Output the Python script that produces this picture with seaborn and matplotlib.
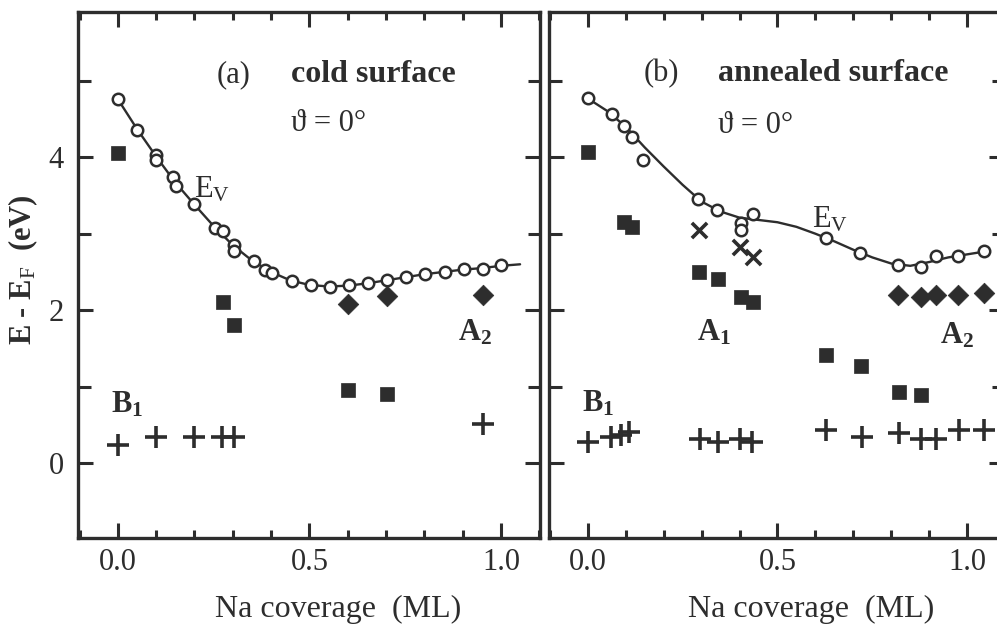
import numpy as np
import pandas as pd
import matplotlib
matplotlib.use("Agg")
import matplotlib.pyplot as plt
import seaborn as sns
from matplotlib.ticker import FixedLocator, MultipleLocator

# ---------------- data ----------------
# panel (a) cold surface
a_ev_x = [0.0, 0.05, 0.10, 0.10, 0.143, 0.151, 0.20, 0.253, 0.274, 0.303, 0.303,
          0.355, 0.383, 0.403, 0.454, 0.504, 0.554, 0.604, 0.652, 0.703, 0.753,
          0.803, 0.853, 0.903, 0.953, 1.0]
a_ev_y = [4.76, 4.36, 4.03, 3.96, 3.74, 3.63, 3.39, 3.08, 3.04, 2.85, 2.78,
          2.64, 2.53, 2.49, 2.38, 2.33, 2.30, 2.33, 2.35, 2.40, 2.44,
          2.47, 2.50, 2.54, 2.54, 2.59]
a_fit_x = [0.0, 0.05, 0.10, 0.15, 0.20, 0.25, 0.30, 0.35, 0.40, 0.45, 0.50, 0.55,
           0.60, 0.65, 0.70, 0.75, 0.80, 0.85, 0.90, 0.95, 1.0, 1.05]
a_fit_y = [4.76, 4.37, 4.01, 3.67, 3.38, 3.10, 2.85, 2.65, 2.50, 2.39, 2.33, 2.31,
           2.32, 2.35, 2.39, 2.43, 2.47, 2.50, 2.53, 2.55, 2.58, 2.60]
a_sq_x = [0.0, 0.274, 0.303, 0.602, 0.702]
a_sq_y = [4.05, 2.11, 1.80, 0.95, 0.90]
a_di_x = [0.602, 0.702, 0.952]
a_di_y = [2.08, 2.18, 2.20]
a_pl_x = [0.0, 0.10, 0.20, 0.273, 0.303, 0.952]
a_pl_y = [0.24, 0.34, 0.34, 0.34, 0.34, 0.51]

# panel (b) annealed surface
b_ev_x = [0.0, 0.063, 0.096, 0.116, 0.145, 0.291, 0.342, 0.403, 0.403, 0.435,
          0.628, 0.717, 0.818, 0.878, 0.918, 0.976, 1.045]
b_ev_y = [4.77, 4.57, 4.41, 4.27, 3.97, 3.45, 3.31, 3.14, 3.05, 3.26,
          2.94, 2.75, 2.59, 2.57, 2.71, 2.71, 2.78]
b_fit_x = [0.0, 0.05, 0.10, 0.15, 0.20, 0.25, 0.30, 0.35, 0.40, 0.45, 0.50, 0.55,
           0.60, 0.65, 0.70, 0.75, 0.80, 0.85, 0.90, 0.95, 1.0, 1.05]
b_fit_y = [4.77, 4.61, 4.40, 4.13, 3.88, 3.64, 3.42, 3.29, 3.21, 3.18, 3.15, 3.09,
           3.00, 2.90, 2.79, 2.69, 2.61, 2.58, 2.63, 2.69, 2.73, 2.77]
b_sq_x = [0.0, 0.096, 0.116, 0.293, 0.344, 0.403, 0.435, 0.628, 0.72, 0.821, 0.879]
b_sq_y = [4.07, 3.15, 3.09, 2.50, 2.41, 2.17, 2.11, 1.41, 1.27, 0.93, 0.89]
b_cr_x = [0.293, 0.40, 0.435]
b_cr_y = [3.05, 2.83, 2.70]
b_di_x = [0.818, 0.878, 0.918, 0.976, 1.043]
b_di_y = [2.20, 2.17, 2.20, 2.20, 2.22]
b_pl_x = [0.0, 0.062, 0.088, 0.11, 0.295, 0.344, 0.40, 0.434, 0.628, 0.722,
          0.819, 0.877, 0.919, 0.978, 1.044]
b_pl_y = [0.27, 0.34, 0.37, 0.41, 0.32, 0.27, 0.32, 0.27, 0.43, 0.34,
          0.39, 0.32, 0.32, 0.43, 0.43]

x_major = [0.0, 0.5, 1.0]
x_major_labels = ["0.0", "0.5", "1.0"]
y_major = [0, 2, 4]
y_minor = [1, 3, 5]

# ---------------- style ----------------
sns.set_theme(style="ticks")
plt.rcParams["font.family"] = ["Liberation Serif", "DejaVu Serif"]
plt.rcParams["mathtext.fontset"] = "custom"
plt.rcParams["mathtext.rm"] = "Liberation Serif"
plt.rcParams["mathtext.bf"] = "Liberation Serif:bold"
plt.rcParams["mathtext.it"] = "Liberation Serif:italic"

INK = "#2d2d2d"
W, H = 997, 627
fig = plt.figure(figsize=(W / 100, H / 100), dpi=100)
axA = fig.add_axes([78 / W, 89 / H, 462 / W, 526 / H])
axB = fig.add_axes([549 / W, 89 / H, 455 / W, 526 / H])


def draw_panel(ax, ev_x, ev_y, fit_x, fit_y, sq_x, sq_y, di_x, di_y, pl_x, pl_y,
               cr_x=None, cr_y=None):
    sns.lineplot(x=fit_x, y=fit_y, ax=ax, color=INK, linewidth=1.7, sort=False,
                 estimator=None, zorder=2)
    sns.scatterplot(x=ev_x, y=ev_y, ax=ax, marker="o", s=68, color="white",
                    edgecolor=INK, linewidth=1.8, zorder=3)
    sns.scatterplot(x=sq_x, y=sq_y, ax=ax, marker="s", s=105, color=INK,
                    edgecolor=INK, linewidth=0.5, zorder=3)
    sns.scatterplot(x=di_x, y=di_y, ax=ax, marker="D", s=110, color=INK,
                    edgecolor=INK, linewidth=0.5, zorder=3)
    sns.scatterplot(x=pl_x, y=pl_y, ax=ax, marker="+", s=230, color=INK,
                    linewidth=2.6, zorder=3)
    if cr_x is not None:
        sns.scatterplot(x=cr_x, y=cr_y, ax=ax, marker="x", s=120, color=INK,
                        linewidth=2.6, zorder=3)


draw_panel(axA, a_ev_x, a_ev_y, a_fit_x, a_fit_y, a_sq_x, a_sq_y, a_di_x, a_di_y,
           a_pl_x, a_pl_y)
draw_panel(axB, b_ev_x, b_ev_y, b_fit_x, b_fit_y, b_sq_x, b_sq_y, b_di_x, b_di_y,
           b_pl_x, b_pl_y, b_cr_x, b_cr_y)

axA.set_xlim(-0.104, 1.102)
axB.set_xlim(-0.102, 1.097)
for ax in (axA, axB):
    ax.set_ylim(-0.98, 5.9)
    ax.xaxis.set_major_locator(FixedLocator(x_major))
    ax.set_xticklabels(x_major_labels)
    ax.xaxis.set_minor_locator(MultipleLocator(0.1))
    ax.yaxis.set_major_locator(FixedLocator(y_major))
    ax.yaxis.set_minor_locator(FixedLocator(y_minor))
    ax.tick_params(which="both", direction="in", top=True, right=True,
                   color=INK, width=2.2, labelsize=22, labelcolor=INK)
    ax.tick_params(axis="x", which="major", length=11, pad=7)
    ax.tick_params(axis="x", which="minor", length=6)
    ax.tick_params(axis="y", which="major", length=11, pad=10)
    ax.tick_params(axis="y", which="minor", length=9)
    for sp in ax.spines.values():
        sp.set_color(INK)
        sp.set_linewidth(2.4)
    ax.set_xlabel("Na coverage  (ML)", fontsize=23, color=INK, va="baseline")
    ax.set_ylabel("")

axA.xaxis.set_label_coords(0.563, -0.150)
axB.xaxis.set_label_coords(0.575, -0.150)
axB.tick_params(axis="y", labelleft=False)

axA.set_ylabel(r"E - E$_{\mathrm{F}}$  (eV)", fontsize=22, fontweight="bold", color=INK)
axA.yaxis.label.set_va("center")
axA.yaxis.set_label_coords(-0.119, 0.51)

# annotations
tk = dict(color=INK, va="center")
axA.text(0.303, 5.08, "(a)", fontsize=22, ha="center", **tk)
axA.text(0.452, 5.08, "cold surface", fontsize=23, fontweight="bold", ha="left", **tk)
axA.text(0.452, 4.44, "\u03d1 = 0\u00b0", fontsize=22, ha="left", **tk)
axA.text(0.200, 3.58, r"E$_{\mathrm{V}}$", fontsize=22, ha="left", **tk)
axA.text(0.887, 1.70, r"$\mathbf{A}_{\mathbf{2}}$", fontsize=22, ha="left", **tk)
axA.text(-0.018, 0.76, r"$\mathbf{B}_{\mathbf{1}}$", fontsize=22, ha="left", **tk)

axB.text(0.195, 5.10, "(b)", fontsize=22, ha="center", **tk)
axB.text(0.344, 5.10, "annealed surface", fontsize=23, fontweight="bold", ha="left", **tk)
axB.text(0.344, 4.42, "\u03d1 = 0\u00b0", fontsize=22, ha="left", **tk)
axB.text(0.59, 3.18, r"E$_{\mathrm{V}}$", fontsize=22, ha="left", **tk)
axB.text(0.287, 1.70, r"$\mathbf{A}_{\mathbf{1}}$", fontsize=22, ha="left", **tk)
axB.text(0.928, 1.66, r"$\mathbf{A}_{\mathbf{2}}$", fontsize=22, ha="left", **tk)
axB.text(-0.016, 0.78, r"$\mathbf{B}_{\mathbf{1}}$", fontsize=22, ha="left", **tk)

fig.savefig("out.png", dpi=100)
